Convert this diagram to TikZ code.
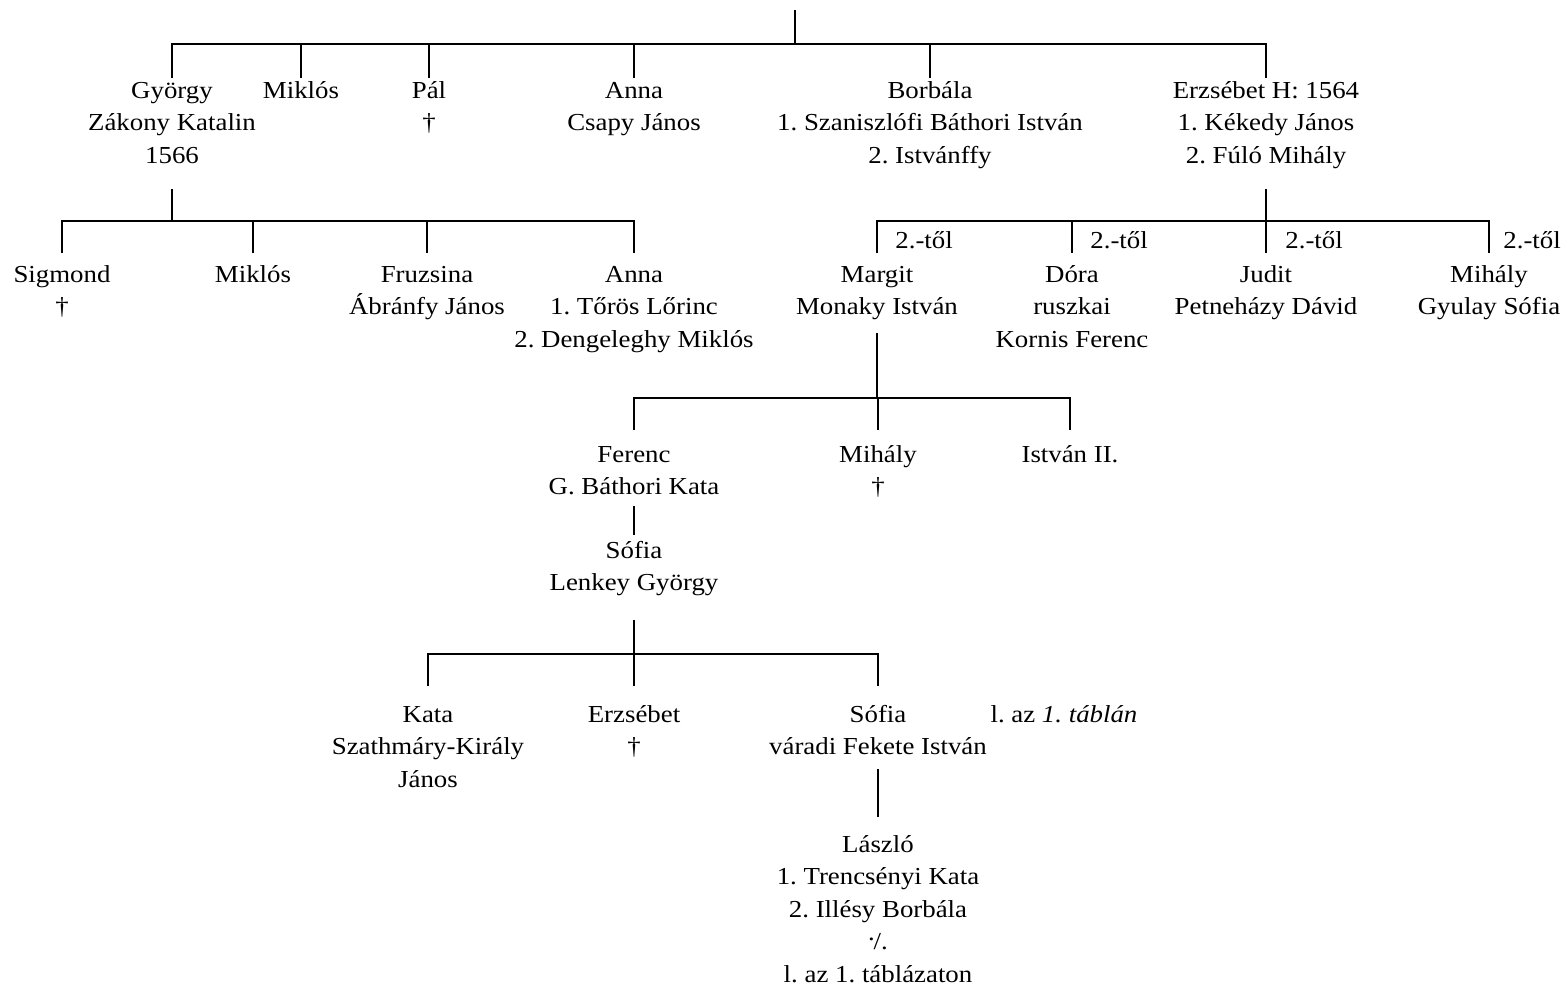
\documentclass[tikz,border=0pt]{standalone}
\usepackage{fontspec}
\setmainfont{Liberation Serif}[FakeStretch=1.1]
\begin{document}
\frenchspacing
\begin{tikzpicture}[x=0.5pt,y=-0.5pt,
  every node/.style={font=\fontsize{12.2}{16.25}\selectfont, inner xsep=0pt, align=center},
  person/.style={anchor=north, inner ysep=#1},
  person/.default=0pt,
  note/.style={anchor=base west, inner sep=0pt},
  link/.style={line width=1pt}]
% fixed height for the first line, so every node top sits 10pt above its first baseline
\newcommand\lineone{\rule{0pt}{10pt}}
\useasboundingbox (0,0) rectangle (1565,987);

% ---- first generation ----
\coordinate (root) at (795,10);
\coordinate (j0) at (795,44);
\node[person] (gyorgy)   at (172,78)  {\lineone György\\Zákony Katalin\\1566};
\node[person] (miklos1)  at (301,78)  {\lineone Miklós};
\node[person] (pal)      at (429,78)  {\lineone Pál\\†};
\node[person] (anna1)    at (634,78)  {\lineone Anna\\Csapy János};
\node[person] (borbala)  at (930,78)  {\lineone Borbála\\1. Szaniszlófi Báthori István\\2. Istvánffy};
\node[person] (erzsebet) at (1266,78) {\lineone Erzsébet H: 1564\\1. Kékedy János\\2. Fúló Mihály};
\draw[link] (root) -- (j0);
\draw[link] (gyorgy.north) -- (gyorgy.north |- j0) -- (erzsebet.north |- j0) -- (erzsebet.north);
\foreach \n in {miklos1,pal,anna1,borbala}
  \draw[link] (\n.north) -- (\n.north |- j0);

% ---- children of György ----
\coordinate (gy-stem) at (172,189);
\coordinate (j1) at (172,221);
\node[person=4.5pt] (sigmond)  at (62,253)  {\lineone Sigmond\\†};
\node[person=4.5pt] (miklos2)  at (253,253) {\lineone Miklós};
\node[person=4.5pt] (fruzsina) at (427,253) {\lineone Fruzsina\\Ábránfy János};
\node[person=4.5pt] (anna2)    at (634,253) {\lineone Anna\\1. Tőrös Lőrinc\\2. Dengeleghy Miklós};
\draw[link] (gy-stem) -- (j1);
\draw[link] (sigmond.north) -- (sigmond.north |- j1) -- (anna2.north |- j1) -- (anna2.north);
\foreach \n in {miklos2,fruzsina}
  \draw[link] (\n.north) -- (\n.north |- j1);

% ---- children of Erzsébet ----
\coordinate (er-stem) at (1266,189);
\coordinate (j2) at (1266,221);
\node[person=4.5pt] (margit)  at (877,253)  {\lineone Margit\\Monaky István};
\node[person=4.5pt] (dora)    at (1072,253) {\lineone Dóra\\ruszkai\\Kornis Ferenc};
\node[person=4.5pt] (judit)   at (1266,253) {\lineone Judit\\Petneházy Dávid};
\node[person=4.5pt] (mihaly1) at (1489,253) {\lineone Mihály\\Gyulay Sófia};
\draw[link] (er-stem) -- (j2);
\draw[link] (margit.north) -- (margit.north |- j2) -- (mihaly1.north |- j2) -- (mihaly1.north);
\foreach \n in {dora,judit}
  \draw[link] (\n.north) -- (\n.north |- j2);
\node[note] (tol1) at (895,248)  {2.-től};
\node[note] (tol2) at (1090,248) {2.-től};
\node[note] (tol3) at (1285,248) {2.-től};
\node[note] (tol4) at (1503,248) {2.-től};

% ---- children of Margit ----
\coordinate (ma-stem) at (877,333);
\coordinate (j3) at (877,398);
\node[person=6pt] (ferenc)  at (634,430)  {\lineone Ferenc\\G. Báthori Kata};
\node[person=6pt] (mihaly2) at (878,430)  {\lineone Mihály\\†};
\node[person=6pt] (istvan)  at (1070,430) {\lineone István II.};
\draw[link] (ma-stem) -- (j3);
\draw[link] (ferenc.north) -- (ferenc.north |- j3) -- (istvan.north |- j3) -- (istvan.north);
\draw[link] (mihaly2.north) -- (mihaly2.north |- j3);

% ---- Ferenc's daughter ----
\coordinate (fe-stem) at (634,506);
\node[person=1.5pt] (sofia1) at (634,535) {\lineone Sófia\\Lenkey György};
\draw[link] (fe-stem) -- (sofia1.north);

% ---- children of Sófia ----
\coordinate (so-stem) at (634,620);
\coordinate (j4) at (634,654);
\node[person=8pt] (kata)      at (428,686) {\lineone Kata\\Szathmáry-Király\\János};
\node[person=8pt] (erzsebet2) at (634,686) {\lineone Erzsébet\\†};
\node[person=8pt] (sofia2)    at (878,686) {\lineone Sófia\\váradi Fekete István};
\node[anchor=base, inner sep=0pt] (tabla) at (1064,722) {l. az \textit{1. táblán}};
\draw[link] (so-stem) -- (j4);
\draw[link] (kata.north) -- (kata.north |- j4) -- (sofia2.north |- j4) -- (sofia2.north);
\draw[link] (erzsebet2.north) -- (erzsebet2.north |- j4);

% ---- László ----
\coordinate (sf-stem) at (878,769);
\node[person=7.5pt] (laszlo) at (878,817)
  {\lineone László\\1. Trencsényi Kata\\2. Illésy Borbála\\\raisebox{0.8ex}{.}\kern-0.05em/.\\l. az 1. táblázaton};
\draw[link] (sf-stem) -- (laszlo.north);
\end{tikzpicture}
\end{document}
